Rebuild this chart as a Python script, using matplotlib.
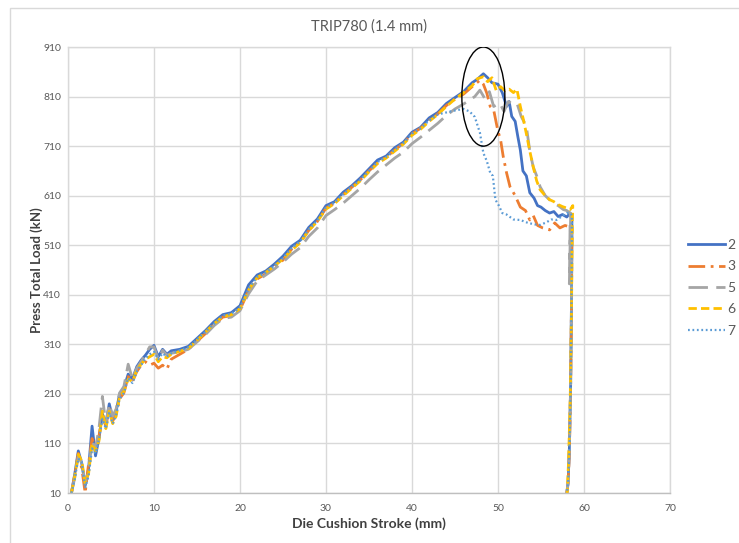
import matplotlib
matplotlib.use("Agg")
import matplotlib.pyplot as plt
from matplotlib.patches import Ellipse, Rectangle

# ---------------- data ----------------
rise_x = [0.4, 0.8, 1.2, 1.6, 2.0, 2.4, 2.8, 3.2, 3.6, 4.0, 4.4, 4.8, 5.2, 5.6, 6.0,
          6.5, 7.0, 7.5, 8.0, 8.5, 9.0, 9.5, 10.0, 10.5, 11.0, 11.5, 12.0,
          13, 14, 15, 16, 17, 18, 19, 20, 21, 22, 23, 24, 25, 26, 27, 28, 29, 30,
          31, 32, 33, 34, 35, 36, 37, 38, 39, 40, 41, 42, 43, 44]

s2_rise = [10, 50, 95, 70, 25, 60, 145, 85, 120, 170, 150, 190, 160, 175, 210,
           222, 250, 240, 265, 278, 288, 300, 308, 285, 300, 290, 297,
           300, 306, 322, 338, 356, 370, 374, 388, 430, 450, 458, 472, 488, 508,
           520, 546, 563, 590, 598, 617, 630, 646, 664, 682, 690, 707, 718, 738,
           748, 767, 778, 796]
s2_tail_x = [45, 46, 47, 47.6, 48.3, 48.8, 49.3, 50.0, 50.5, 51.0,
             51.3, 51.6, 52.0, 52.3, 52.6, 52.9, 53.3, 53.7, 54.2, 54.6,
             55.0, 55.5, 56.0, 56.5, 57.0, 57.5, 58.0, 58.4, 58.6, 58.55,
             58.45, 58.3, 58.15, 58.0]
s2_tail_y = [808, 820, 838, 845, 856, 848, 838, 835, 818, 790,
             800, 770, 760, 730, 702, 660, 650, 616, 605, 590,
             587, 580, 575, 578, 568, 572, 567, 575, 565, 400,
             230, 100, 30, 10]

s3_rise = [10, 48, 90, 60, 10, 70, 120, 100, 125, 165, 145, 180, 155, 170, 200,
           212, 245, 235, 255, 268, 275, 268, 272, 262, 268, 260, 280,
           290, 300, 316, 332, 350, 365, 368, 380, 418, 442, 452, 466, 480, 502,
           516, 540, 558, 585, 595, 612, 627, 642, 660, 676, 688, 702, 716, 735,
           746, 762, 775, 792]
s3_tail_x = [45, 46, 47, 47.9, 48.3, 48.7, 49.1, 49.5, 49.8, 50.0,
             50.3, 50.6, 51.0, 51.4, 52.0, 52.6, 53.2, 53.7, 54.1, 54.6,
             55.2, 56.0, 56.6, 57.2, 57.8, 58.3, 58.6, 58.55, 58.45, 58.3,
             58.15, 58.0]
s3_tail_y = [805, 815, 830, 843, 835, 817, 790, 783, 757, 740,
             723, 690, 656, 628, 610, 587, 580, 561, 570, 550,
             545, 541, 555, 545, 550, 547, 545, 400, 220, 90,
             30, 10]

s5_rise = [10, 42, 85, 70, 30, 55, 115, 100, 140, 205, 150, 190, 165, 180, 212,
           225, 270, 240, 262, 275, 290, 305, 305, 280, 298, 288, 292,
           295, 300, 315, 330, 348, 362, 365, 378, 412, 438, 450, 462, 476, 492,
           505, 528, 545, 570, 582, 595, 610, 625, 642, 658, 672, 686, 698, 715,
           728, 742, 756, 772]
s5_tail_x = [45, 46, 46.7, 47.3, 47.9, 48.5, 49.0, 49.5, 50.2, 50.7,
             51.2, 51.7, 52.2, 52.7, 53.3, 53.7, 54.1, 54.5, 54.9, 55.5,
             56.4, 57.0, 57.6, 58.0, 58.4, 58.3, 58.45, 58.6, 58.55, 58.45,
             58.3, 58.15, 58.0]
s5_tail_y = [785, 795, 803, 810, 823, 805, 820, 790, 797, 780,
             800, 795, 797, 770, 750, 700, 668, 650, 628, 610,
             595, 590, 582, 580, 575, 432, 570, 565, 400, 230,
             100, 30, 10]

s6_rise = [10, 45, 88, 75, 30, 50, 110, 95, 115, 175, 140, 175, 150, 165, 205,
           215, 240, 235, 258, 270, 280, 285, 290, 275, 285, 283, 290,
           296, 302, 318, 335, 352, 366, 370, 382, 420, 445, 455, 468, 482, 500,
           515, 540, 558, 583, 594, 610, 625, 640, 658, 675, 686, 700, 714, 732,
           744, 760, 774, 790]
s6_tail_x = [45, 46, 47, 47.6, 48.3, 48.8, 49.3, 49.8, 50.3, 50.8,
             51.3, 51.8, 52.2, 52.6, 53.0, 53.3, 53.7, 54.1, 54.5, 54.9,
             55.4, 56.0, 56.5, 57.0, 57.5, 58.0, 58.4, 58.7, 58.65, 58.55,
             58.4, 58.2, 58.05]
s6_tail_y = [805, 818, 832, 846, 850, 840, 848, 822, 830, 822,
             825, 818, 825, 790, 760, 735, 700, 668, 640, 622,
             612, 602, 598, 592, 588, 585, 582, 590, 560, 380,
             200, 70, 10]

s7_rise = [10, 40, 80, 72, 20, 45, 100, 90, 118, 160, 140, 172, 150, 168, 200,
           212, 242, 232, 255, 268, 282, 290, 295, 280, 292, 285, 292,
           298, 304, 320, 336, 352, 368, 372, 384, 422, 446, 455, 468, 484, 504,
           518, 542, 560, 586, 596, 613, 628, 642, 660, 678, 688, 703, 716, 735,
           746, 762, 774, 778]
s7_tail_x = [45, 46, 46.7, 47.3, 47.9, 48.3, 48.7, 49.1, 49.4, 49.7,
             50.1, 50.5, 51.0, 51.8, 52.6, 53.5, 54.3, 54.9, 55.6, 56.2,
             56.8, 57.4, 58.0, 58.4, 58.6, 58.55, 58.45, 58.3, 58.15, 58.0]
s7_tail_y = [782, 785, 780, 769, 737, 696, 680, 656, 650, 602,
             590, 575, 572, 562, 561, 555, 552, 551, 556, 562,
             561, 568, 575, 575, 570, 400, 220, 90, 30, 10]

series_labels = ["2", "3", "5", "6", "7"]
x_ticks = [0, 10, 20, 30, 40, 50, 60, 70]
y_ticks = [10, 110, 210, 310, 410, 510, 610, 710, 810, 910]

title = "TRIP780 (1.4 mm)"
x_label = "Die Cushion Stroke (mm)"
y_label = "Press Total Load (kN)"

# ---------------- plot ----------------
plt.rcParams['font.family'] = ['Lato', 'DejaVu Sans']

fig = plt.figure(figsize=(7.39, 5.43), dpi=100)
ax = fig.add_axes([0.092, 0.092, 0.8146, 0.8214])

styles = [
    dict(color="#4472C4", linestyle="-", linewidth=2.0),
    dict(color="#ED7D31", linestyle=(0, (6, 2, 1, 2)), linewidth=2.0),
    dict(color="#A5A5A5", linestyle=(0, (7, 3)), linewidth=2.0),
    dict(color="#FFC000", linestyle=(0, (3, 1.5)), linewidth=2.0),
    dict(color="#5B9BD5", linestyle=(0, (0.8, 1.2)), linewidth=1.6),
]

all_y = [(s2_rise, s2_tail_x, s2_tail_y), (s3_rise, s3_tail_x, s3_tail_y),
         (s5_rise, s5_tail_x, s5_tail_y), (s6_rise, s6_tail_x, s6_tail_y),
         (s7_rise, s7_tail_x, s7_tail_y)]

for lab, (rise, tx, ty), st in zip(series_labels, all_y, styles):
    xs = list(rise_x) + list(tx)
    ys = list(rise) + list(ty)
    ax.plot(xs, ys, label=lab, **st)

ax.set_xlim(0, 70)
ax.set_ylim(10, 910)
ax.set_xticks(x_ticks)
ax.set_yticks(y_ticks)
ax.grid(True, color="#D9D9D9", linewidth=1.0)
ax.set_axisbelow(True)
for sp in ax.spines.values():
    sp.set_color("#D9D9D9")
    sp.set_linewidth(1.0)
ax.spines['bottom'].set_color("#BFBFBF")
ax.tick_params(axis="x", length=0, labelsize=7.5, colors="#595959", pad=8)
ax.tick_params(axis="y", length=0, labelsize=7.5, colors="#595959", pad=5)

ax.set_title(title, fontsize=10.5, color="#595959", pad=12)
ax.set_xlabel(x_label, fontsize=10, fontweight="bold", color="#404040", labelpad=3)
ax.set_ylabel(y_label, fontsize=9.5, fontweight="bold", color="#404040")
ax.yaxis.set_label_coords(-0.042, 0.5)

# highlight ellipse around the peak
ell = Ellipse((48.3, 810), width=5.0, height=200, fill=False,
              edgecolor="black", linewidth=1.0, zorder=5)
ax.add_patch(ell)

leg = ax.legend(loc="center left", bbox_to_anchor=(1.01, 0.46), frameon=False,
                fontsize=10, handlelength=2.6, handletextpad=0.2,
                labelspacing=0.68, labelcolor="#595959")

# chart border
fig.patches.append(Rectangle((0.0135, -0.01), 1.0, 1.0 - 0.0147 + 0.01,
                             transform=fig.transFigure, fill=False,
                             edgecolor="#D9D9D9", linewidth=1.0))

fig.savefig("out.png", dpi=100)
